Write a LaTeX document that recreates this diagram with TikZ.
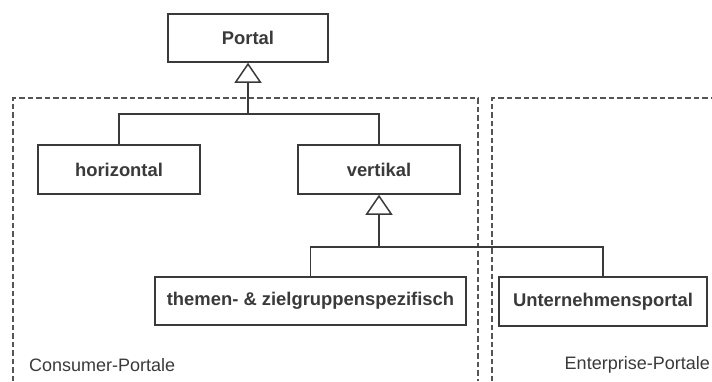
\documentclass[tikz,border=0pt]{standalone}
\usepackage{fontspec}
\setmainfont{Liberation Sans}
\usetikzlibrary{arrows.meta}
\definecolor{ink}{HTML}{3A3A3A}
\definecolor{frame}{HTML}{555555}
\begin{document}
\begin{tikzpicture}[x=1pt,y=-1pt,
  cls/.style={draw=ink,line width=1.5pt,fill=white,inner sep=0pt,
    font=\fontsize{18.4}{20}\selectfont\bfseries,text=ink},
  link/.style={draw=ink,line width=1.5pt},
  gen/.style={link,-{Triangle[open,length=20pt,width=27pt,line width=1.5pt]}},
  region/.style={draw=frame,line width=1.3pt,dash pattern=on 5.5pt off 3pt},
  regionlabel/.style={inner sep=0pt,font=\fontsize{18}{20}\selectfont,text=ink}]
\useasboundingbox (0,0) rectangle (712,381);

% package areas
\draw[region] (13,381) -- (13,98) -- (478,98) -- (478,381);
\draw[region] (492,381) -- (492,98) -- (712,98);
\node[regionlabel,anchor=west] (consumer) at (29,365) {Consumer-Portale};
\node[regionlabel,anchor=east] (enterprise) at (710,365) {Enterprise-Portale};

% classes
\node[cls,minimum width=160pt,minimum height=48pt] (portal) at (248,38) {Portal};
\node[cls,minimum width=162pt,minimum height=49pt] (horiz) at (119,169.5) {horizontal};
\node[cls,minimum width=162pt,minimum height=49pt] (vert) at (379,169.5) {vertikal};
\node[cls,minimum width=311pt,minimum height=48pt] (themen) at (310.5,301) {themen- \& zielgruppenspezifisch};
\node[cls,minimum width=208pt,minimum height=49pt] (untern) at (603,301.5) {Unternehmensportal};

% generalisations
\coordinate (j1) at (248,114);
\draw[link] (horiz.north) |- (j1) -| (vert.north);
\draw[gen] (j1) -- (portal.south);

\coordinate (j2) at (379,247);
\draw[link] (themen.north) |- (j2) -| (untern.north);
\draw[gen] (j2) -- (vert.south);
\end{tikzpicture}
\end{document}
